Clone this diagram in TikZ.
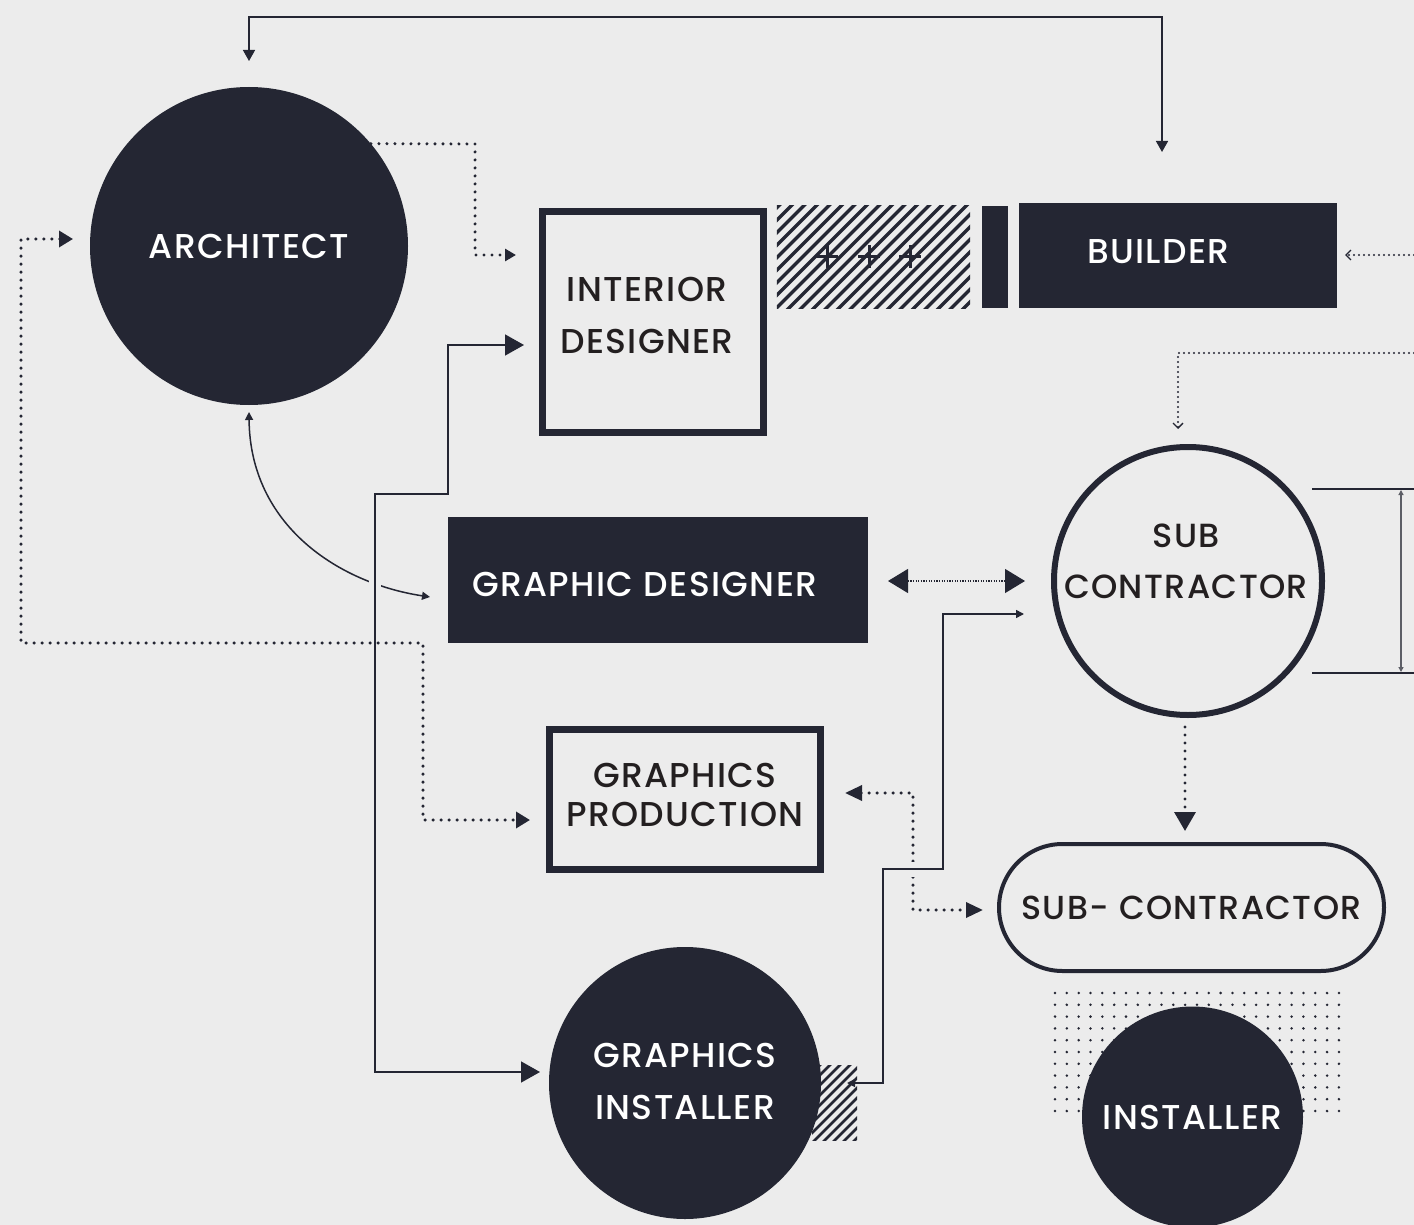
\documentclass[tikz,border=0pt]{standalone}
\usepackage{fontspec}
\setmainfont{Poppins}[UprightFont={* Medium}, LetterSpace=4]
\usetikzlibrary{arrows.meta}

\definecolor{ink}{HTML}{242633}
\definecolor{paper}{HTML}{ECECEC}
\definecolor{txt}{HTML}{231F20}
\definecolor{rule}{HTML}{5C5E66}

% two centred lines of a label
\newcommand{\twoline}[2]{\begin{tabular}{@{}c@{}}#1\\#2\end{tabular}}
% move a label without changing the size the node sees
\newcommand{\nudge}[3]{\raisebox{#2}[\height][\depth]{\hspace*{#1}#3\hspace*{-#1}}}

\tikzset{
  tipT/.tip={Triangle[length=8pt,width=8pt]},
  tipS/.tip={Triangle[length=11pt,width=12pt]},
  tipM/.tip={Triangle[length=14pt,width=16pt]},
  tipN/.tip={Triangle[length=17pt,width=15pt]},
  tipL/.tip={Triangle[length=19pt,width=21pt]},
  tipXL/.tip={Triangle[length=20pt,width=24pt]},
  barb/.tip={Straight Barb[length=5pt,width=10pt,line width=1.3pt]},
}

\begin{document}
\begin{tikzpicture}[x=1pt,y=-1pt,
  lbl/.style={font=\fontsize{34.5}{52}\selectfont},
  darkdisc/.style={circle, fill=ink, text=white, inner sep=0pt, lbl},
  darkbar/.style={rectangle, fill=ink, text=white, inner sep=0pt, lbl},
  framebox/.style={rectangle, draw=ink, line width=7pt, text=txt, inner sep=0pt, lbl},
  ring/.style={circle, draw=ink, line width=6pt, text=txt, inner sep=0pt, font=\fontsize{33.5}{51}\selectfont},
  pill/.style={rectangle, rounded corners=63.5pt, draw=ink, line width=4pt, text=txt, inner sep=0pt, font=\fontsize{33.3}{40}\selectfont},
  thinline/.style={draw=ink, line width=1.5pt},
  dotline/.style={draw=ink, line width=3.4pt, line cap=round, dash pattern=on 0pt off 8pt},
  smalldots/.style={draw=ink, line width=2.2pt, line cap=round, dash pattern=on 0pt off 5pt},
  fineline/.style={draw=ink, line width=1.2pt, dash pattern=on 1.2pt off 1.4pt},
]
% canvas
\fill[paper] (0,0) rectangle (1414,1225);
\useasboundingbox (0,0) rectangle (1414,1225);

% dot screen behind the installer
\foreach \i in {0,...,24}{
  \foreach \j in {0,...,10}{
    \fill[ink] (1055+\i*11.83, 993+\j*11.8) circle (1.4pt);
  }
}

% hatched tab behind the graphics installer
\begin{scope}
  \clip (812,1065) rectangle (857,1140);
  \foreach \k in {0,...,14}{
    \draw[ink, line width=2.8pt] (720+\k*10,1145) -- ++(90,-90);
  }
\end{scope}

% hatched strip with crosses beside the builder
\node[minimum width=193pt, minimum height=102pt, inner sep=0pt] (hatchA) at (873.5,257) {};
\begin{scope}
  \clip (hatchA.south west) rectangle (hatchA.north east);
  \foreach \k in {0,...,26}{
    \draw[ink, line width=3.2pt] (660+\k*12.5,312) -- ++(110,-110);
  }
\end{scope}
\foreach \cx in {827,869,910}{
  \draw[ink, line width=3pt] (\cx-11,257) -- (\cx+11,257) (\cx,245.5) -- (\cx,268.5);
}

% main shapes
\node[darkdisc, minimum size=318pt] (arch) at (249,246) {ARCHITECT};
\node[framebox, minimum width=221pt, minimum height=221pt] (interior) at (653,322)
  {\nudge{-6pt}{5pt}{\twoline{INTERIOR}{DESIGNER}}};
\node[fill=ink, minimum width=26pt, minimum height=102pt, inner sep=0pt] (bar) at (995,257) {};
\node[darkbar, minimum width=318pt, minimum height=105pt] (builder) at (1178,255.5)
  {\nudge{0pt}{4pt}{\makebox[182pt][l]{BUILDER}}};
\node[darkbar, minimum width=420pt, minimum height=126pt] (gdes) at (658,580)
  {\nudge{0pt}{-4.5pt}{\makebox[372pt][l]{GRAPHIC DESIGNER}}};
\node[ring, minimum size=268pt] (subc) at (1188,581)
  {\nudge{-2pt}{18pt}{\twoline{SUB}{CONTRACTOR}}};
\node[framebox, minimum width=271pt, minimum height=140pt, font=\fontsize{34.5}{38.5}\selectfont] (gprod) at (685,799.5)
  {\twoline{GRAPHICS}{PRODUCTION}};
\node[darkdisc, minimum size=272pt] (ginst) at (685,1083)
  {\twoline{GRAPHICS}{INSTALLER}};
\node[pill, minimum width=385pt, minimum height=127pt] (pill) at (1191.5,907.5) {SUB- CONTRACTOR};
\node[darkdisc, minimum size=221pt] (inst) at (1192.5,1117) {INSTALLER};

% free ends of the connectors
\coordinate (archTop) at (249,61);
\coordinate (buildTop) at (1162,152);
\coordinate (idIn) at (516,255);
\coordinate (archIn) at (73,239);
\coordinate (gpIn) at (530,820);
\coordinate (idIn2) at (524,345);
\coordinate (giIn) at (540,1072);
\coordinate (archLow) at (249,412);
\coordinate (gdIn) at (430,597);
\coordinate (gdOut) at (888,581);
\coordinate (scIn) at (1025,581);
\coordinate (scIn2) at (1024,614);
\coordinate (giOut) at (847,1083);
\coordinate (gpOut) at (845,793);
\coordinate (pillIn) at (983,910);
\coordinate (scOut) at (1185,727);
\coordinate (pillTop) at (1185,831);
\coordinate (edgeA) at (1414,255);
\coordinate (builderIn) at (1345,255);
\coordinate (edgeB) at (1414,353);
\coordinate (subcIn) at (1178,429);

% builder <-> architect, over the top
\draw[thinline, {tipS}-{tipS}] (archTop) -- (249,17) -- (1162,17) -- (buildTop);

% architect -> interior designer
\draw[dotline, -{tipS}] (arch.40) -- (475,144) -- (475,255) -- (idIn);

% architect <-> graphics production, round the left side
\draw[dotline, {tipM}-{tipM}] (archIn) -- (21,239) -- (21,643) -- (423,643) -- (423,820) -- (gpIn);

% architect <-> graphic designer
\draw[thinline, {tipT}-{tipT}] (archLow) .. controls (250,525) and (338,583) .. (gdIn);
\fill[paper] (369,575) rectangle (381,600);

% interior designer <-> graphics installer
\draw[thinline, {tipL}-{tipL}] (idIn2) -- (448,345) -- (448,494) -- (375,494) -- (375,1072) -- (giIn);

% graphic designer <-> sub contractor
\draw[fineline, {tipXL}-{tipXL}] (gdOut) -- (scIn);

% graphics production <-> sub-contractor
\draw[dotline, {tipN}-{tipN}] (gpOut) -- (913,793) -- (913,910) -- (pillIn);
\fill[paper] (906,862) rectangle (920,877);

% graphics installer <-> sub contractor
\draw[thinline, {tipT}-{tipT}] (giOut) -- (883,1083) -- (883,869) -- (943,869) -- (943,614) -- (scIn2);

% sub contractor -> sub-contractor
\draw[dotline, -{tipL}] (scOut) -- (pillTop);

% incoming from the right edge
\draw[smalldots, -{barb}] (edgeA) -- (builderIn);
\draw[smalldots, -{barb}] (edgeB) -- (1178,353) -- (subcIn);

% height bracket of the sub contractor
\coordinate (brT) at (1312,489);
\coordinate (brB) at (1312,673);
\draw[ink, line width=1.5pt] (brT) -- (1414,489) (brB) -- (1414,673);
\draw[rule, line width=1.5pt, {Triangle[length=5pt,width=5pt]}-{Triangle[length=5pt,width=5pt]}] (1401,490) -- (1401,672);
\end{tikzpicture}
\end{document}
